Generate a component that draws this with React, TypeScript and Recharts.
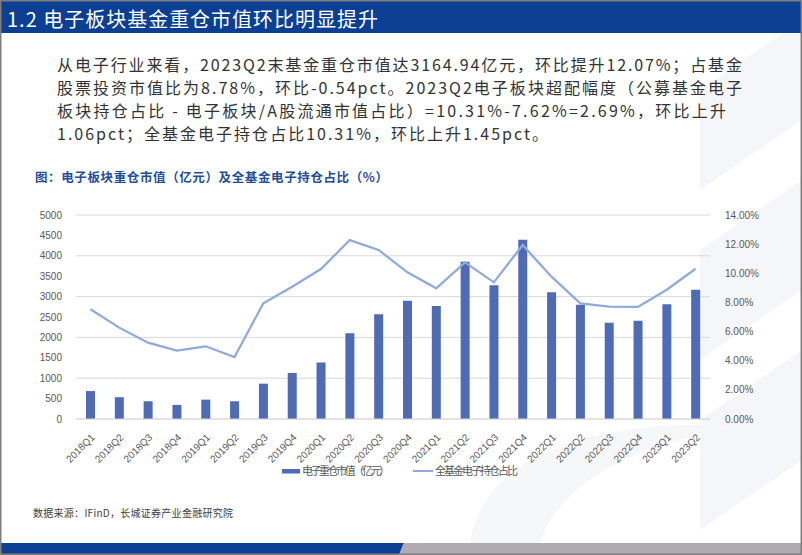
import React from "react";
import { ComposedChart, Bar, Line, XAxis, YAxis, CartesianGrid } from "recharts";

const quarters = [
  "2018Q1", "2018Q2", "2018Q3", "2018Q4",
  "2019Q1", "2019Q2", "2019Q3", "2019Q4",
  "2020Q1", "2020Q2", "2020Q3", "2020Q4",
  "2021Q1", "2021Q2", "2021Q3", "2021Q4",
  "2022Q1", "2022Q2", "2022Q3", "2022Q4",
  "2023Q1", "2023Q2",
];
const heavyValue = [
  685, 535, 435, 345, 475, 435, 866, 1130, 1385, 2100, 2566, 2900,
  2770, 3855, 3277, 4395, 3105, 2802, 2360, 2410, 2810, 3165,
];
const holdingPct = [
  7.53, 6.27, 5.24, 4.69, 4.99, 4.25, 7.94, 9.08, 10.29, 12.28, 11.6, 10.07,
  8.97, 10.75, 9.38, 11.94, 9.77, 7.94, 7.71, 7.69, 8.87, 10.31,
];
const leftTicks = [0, 500, 1000, 1500, 2000, 2500, 3000, 3500, 4000, 4500, 5000];
const rightTicks = [0, 2, 4, 6, 8, 10, 12, 14];

const titleText = "1.2 电子板块基金重仓市值环比明显提升";
const bodyLines = [
  "从电子行业来看，2023Q2末基金重仓市值达3164.94亿元，环比提升12.07%；占基金",
  "股票投资市值比为8.78%，环比-0.54pct。2023Q2电子板块超配幅度（公募基金电子",
  "板块持仓占比 - 电子板块/A股流通市值占比）=10.31%-7.62%=2.69%，环比上升",
  "1.06pct；全基金电子持仓占比10.31%，环比上升1.45pct。",
];
const captionText = "图：电子板块重仓市值（亿元）及全基金电子持仓占比（%）";
const barName = "电子重仓市值（亿元）";
const lineName = "全基金电子持仓占比";
const sourceText = "数据来源：IFinD，长城证券产业金融研究院";

const data = quarters.map((q, i) => ({ q, v: heavyValue[i], p: holdingPct[i] }));

const BAR_COLOR = "#4F6BB5";
const LINE_COLOR = "#8FAADC";
const NAVY = "#0B3F94";
const AXIS_FONT = "Liberation Sans, Arial, sans-serif";
const CJK = "'Noto Sans CJK SC', sans-serif";

const XTick = (props: any) => {
  const { x, y, payload } = props;
  const ax = x + 5;
  const ay = y + 11;
  return (
    <text
      x={ax}
      y={ay}
      textAnchor="end"
      fontSize={10}
      fill="#595959"
      fontFamily={AXIS_FONT}
      transform={`rotate(-45, ${ax}, ${ay})`}
    >
      {payload.value}
    </text>
  );
};

const bodyWidths = [685, 685, 669, 491];

export default function App() {
  return (
    <div
      style={{
        position: "fixed",
        left: 0,
        top: 0,
        width: 802,
        height: 555,
        background: "#ffffff",
        overflow: "hidden",
      }}
    >
      <svg width={802} height={555} style={{ position: "absolute", left: 0, top: 0 }}>
        {/* faint watermark shapes */}
        <polygon points="700,90 802,20 802,120 700,190" fill="#f5f6f9" />
        <polygon points="700,250 802,180 802,290 700,360" fill="#f5f6f9" />
        <polygon points="700,420 802,350 802,460 700,530" fill="#f5f6f9" />
        <path d="M470,543 C480,470 560,430 680,425 L760,425 C640,440 560,480 540,543 Z" fill="#f6f7f9" />
        {/* title bar */}
        <rect x={0} y={0} width={802} height={33} fill={NAVY} />
        <text
          x={7}
          y={27}
          fontSize={20}
          fill="#ffffff"
          fontFamily={CJK}
          textLength={371}
          lengthAdjust="spacing"
        >
          {titleText}
        </text>
        {/* body text */}
        {bodyLines.map((t, i) => (
          <text
            key={i}
            x={57}
            y={71 + i * 23}
            fontSize={16}
            fill="#333333"
            fontFamily={CJK}
            textLength={bodyWidths[i]}
            lengthAdjust="spacing"
          >
            {t}
          </text>
        ))}
        <text
          x={35}
          y={182}
          fontSize={12.5}
          fontWeight="bold"
          fill="#1F4E9B"
          fontFamily={CJK}
          textLength={353}
          lengthAdjust="spacing"
        >
          {captionText}
        </text>
        {/* legend */}
        <rect x={282} y={469} width={18} height={4.5} fill={BAR_COLOR} />
        <text x={302} y={475} fontSize={11} fill="#595959" fontFamily={CJK} textLength={88} lengthAdjust="spacing">
          {barName}
        </text>
        <line x1={413} y1={471} x2={433} y2={471} stroke={LINE_COLOR} strokeWidth={2} />
        <text x={435} y={475} fontSize={11} fill="#595959" fontFamily={CJK} textLength={83} lengthAdjust="spacing">
          {lineName}
        </text>
        {/* source */}
        <text x={33} y={517} fontSize={10} fill="#404040" fontFamily={CJK} textLength={200} lengthAdjust="spacing">
          {sourceText}
        </text>
        {/* bottom bars */}
        <polygon points="0,543 404,543 399,555 0,555" fill={NAVY} />
        <polygon points="404,543 802,543 802,555 399,555" fill="#AFABB0" />
        {/* slide border */}
        <rect x={0.75} y={0.75} width={800.5} height={553.5} fill="none" stroke="#7f7f7f" strokeWidth={1.5} />
      </svg>
      <div style={{ position: "absolute", left: 0, top: 0 }}>
        <ComposedChart
          width={802}
          height={555}
          data={data}
          margin={{ top: 215, right: 0, bottom: 96, left: 0 }}
          barSize={9}
        >
          <CartesianGrid yAxisId="left" vertical={false} stroke="#d9d9d9" />
          <XAxis
            dataKey="q"
            height={40}
            interval={0}
            tickLine={false}
            axisLine={{ stroke: "#d9d9d9" }}
            tick={<XTick />}
          />
          <YAxis
            yAxisId="left"
            orientation="left"
            width={76}
            domain={[0, 5000]}
            ticks={leftTicks}
            axisLine={false}
            tickLine={false}
            tickMargin={8}
            tick={{ fontSize: 10, fill: "#595959", fontFamily: AXIS_FONT }}
          />
          <YAxis
            yAxisId="right"
            orientation="right"
            width={92}
            domain={[0, 14]}
            ticks={rightTicks}
            axisLine={false}
            tickLine={false}
            tickMargin={9}
            tickFormatter={(v: number) => `${v.toFixed(2)}%`}
            tick={{ fontSize: 10, fill: "#595959", fontFamily: AXIS_FONT }}
          />
          <Bar yAxisId="left" dataKey="v" fill={BAR_COLOR} isAnimationActive={false} />
          <Line
            yAxisId="right"
            type="linear"
            dataKey="p"
            stroke={LINE_COLOR}
            strokeWidth={2.25}
            dot={false}
            isAnimationActive={false}
          />
        </ComposedChart>
      </div>
    </div>
  );
}
